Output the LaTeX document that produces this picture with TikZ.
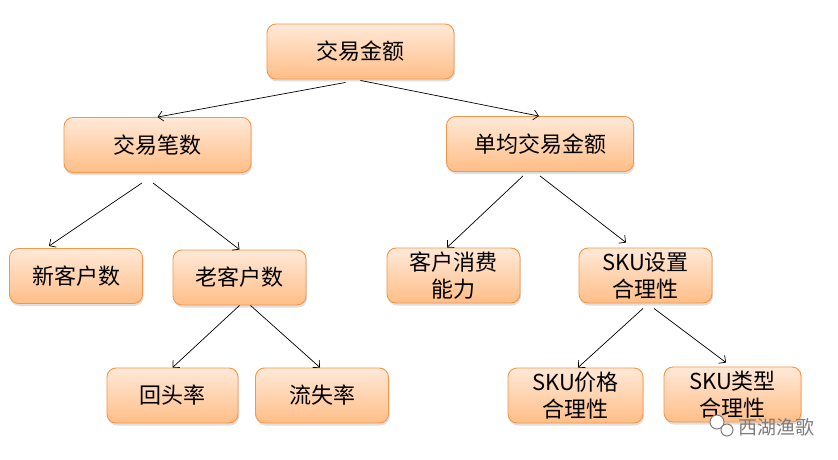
\documentclass[tikz,border=0pt]{standalone}
\usepackage{fontspec}
\setmainfont{Noto Sans CJK SC}
\usetikzlibrary{positioning,arrows.meta,shadows}

\definecolor{boxline}{RGB}{247,150,70}
\definecolor{boxtop}{RGB}{255,233,216}
\definecolor{boxbot}{RGB}{255,190,135}
\definecolor{markgray}{RGB}{125,125,125}

\tikzset{
	box/.style={draw=boxline, line width=0.9pt, rounded corners=9pt,
		top color=boxtop, bottom color=boxbot, minimum height=55pt,
		align=center, inner sep=2pt, font=\fontsize{22}{27}\selectfont,
		drop shadow={shadow xshift=1pt, shadow yshift=-2.5pt, opacity=0.25}},
	wide/.style={box, minimum width=187pt},
	small/.style={box, minimum width=133pt},
}

\begin{document}
\begin{tikzpicture}[x=1pt, y=-1pt, >={Straight Barb[length=5pt,width=10pt]}]
	\useasboundingbox[fill=white] (0,0) rectangle (838,460);

	\node[wide] (root) at (360.5,51.5) {交易金额};
	\node[wide] (cnt) at (157.5,145) {交易笔数};
	\node[wide] (avg) at (540,144) {单均交易金额};
	\node[small] (new) at (76,276) {新客户数};
	\node[small] (old) at (239.5,277.5) {老客户数};
	\node[small] (pow) at (453.5,275.5) {客户消费\\能力};
	\node[small] (sku) at (645.5,275.5) {SKU设置\\合理性};
	\node[small, minimum width=131pt] (back) at (172.5,395.5) {回头率};
	\node[small] (lost) at (322,395.5) {流失率};
	\node[small, minimum width=135pt] (price) at (575.5,395.5) {SKU价格\\合理性};
	\node[small, minimum width=137pt] (kind) at (732.5,394.5) {SKU类型\\合理性};

	\draw[->, line width=0.7pt] ([shift={(-15,3)}]root.south) -- (cnt.north);
	\draw[->, line width=0.7pt] ([shift={(0,1)}]root.south) -- ([shift={(-1,0)}]avg.north);
	\draw[->, line width=0.7pt] ([shift={(-15.5,10)}]cnt.south) -- ([shift={(-27,-2)}]new.north);
	\draw[->, line width=0.7pt] ([shift={(-4.5,10)}]cnt.south) -- (old.north);
	\draw[->, line width=0.7pt] ([shift={(-17,4)}]avg.south) -- ([shift={(-6.5,0)}]pow.north);
	\draw[->, line width=0.7pt] ([shift={(0,4)}]avg.south) -- ([shift={(-19.5,-5)}]sku.north);
	\draw[->, line width=0.7pt] (old.south) -- (back.north);
	\draw[->, line width=0.7pt] ([shift={(11,0)}]old.south) -- ([shift={(-2,0)}]lost.north);
	\draw[->, line width=0.7pt] ([shift={(-2.5,5)}]sku.south) -- ([shift={(2.5,0)}]price.north);
	\draw[->, line width=0.7pt] ([shift={(8.5,5)}]sku.south) -- ([shift={(-6.5,-4)}]kind.north);

	\draw[markgray, line width=1pt, fill=white] (717,422) circle (7);
	\draw[markgray, line width=1pt, fill=white] (727,430) circle (6);
	\node[text=markgray, font=\fontsize{19}{22}\selectfont] (mark) at (776,427) {西湖渔歌};
\end{tikzpicture}
\end{document}
